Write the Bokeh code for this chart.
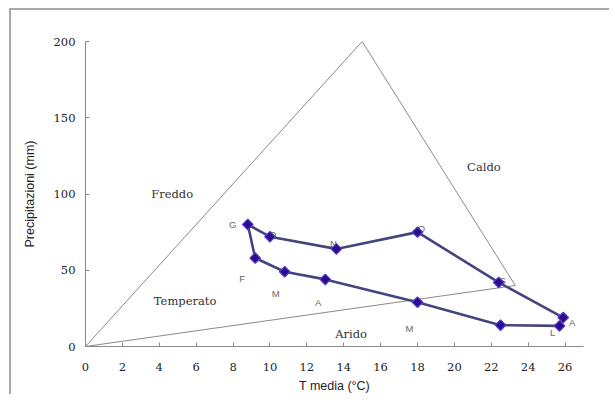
from bokeh.plotting import figure
from bokeh.models import ColumnDataSource, FixedTicker, Range1d
from bokeh.core.properties import value
from bokeh.embed import file_html
from bokeh.resources import INLINE
import math

# ---- data ----
months = ["G", "F", "M", "A", "M", "G", "L", "A", "S", "O", "N", "D"]
t_media = [8.8, 9.2, 10.8, 13.0, 18.0, 22.5, 25.7, 25.9, 22.4, 18.0, 13.6, 10.0]
precip = [80, 58, 49, 44, 29, 14, 13.5, 19, 42, 75, 64, 72]

tri_t = [0, 15, 23.3, 0]
tri_p = [0, 200, 40, 0]

region_names = ["Freddo", "Caldo", "Temperato", "Arido"]
region_t = [4.7, 21.6, 5.4, 14.4]
region_p = [100, 117.5, 30, 8.4]

x_ticks = list(range(0, 27, 2))
y_ticks = [0, 50, 100, 150, 200]

# label placement (screen px offsets from each point)
lab_dx = [-15, -13, -9, -7, -8, 0, -7, 9, 4, 4, -3, 3]
lab_dy = [0, 20, 22, 23, 26, 0, 7, 5, -2, -4, -5, -2]

p = figure(width=600, height=386, output_backend="svg", toolbar_location=None,
           x_range=Range1d(0, 27), y_range=Range1d(0, 200),
           min_border_left=74, min_border_right=28, min_border_top=31, min_border_bottom=50)
# outer gray frame of the picture (cut at right and bottom)
p.styles = {"margin-left": "9px", "margin-top": "8px",
            "border-left": "2px solid #a8a8a8", "border-top": "2px solid #a8a8a8"}
p.outline_line_color = None
p.xgrid.grid_line_color = None
p.ygrid.grid_line_color = None
p.background_fill_color = "white"
p.border_fill_color = "white"

serif = "DejaVu Serif"
sans = "Liberation Sans"

for ax in (p.xaxis[0], p.yaxis[0]):
    ax.axis_line_color = "#8a8a8a"
    ax.major_tick_line_color = "#8a8a8a"
    ax.major_tick_in = 4
    ax.major_tick_out = 0
    ax.minor_tick_line_color = None
    ax.major_label_text_font = serif
    ax.major_label_text_font_size = "11.5px"
    ax.major_label_text_color = "#222222"
    ax.axis_label_text_font = sans
    ax.axis_label_text_font_size = "12.5px"
    ax.axis_label_text_font_style = "normal"
    ax.axis_label_text_color = "#222222"

p.xaxis.ticker = FixedTicker(ticks=x_ticks)
p.yaxis.ticker = FixedTicker(ticks=y_ticks)
p.xaxis.axis_label = "T media (°C)"
p.yaxis.axis_label = "Precipitazioni (mm)"
p.xaxis.major_label_standoff = 16
p.xaxis.axis_label_standoff = 5
p.yaxis.major_label_standoff = 10
p.yaxis.axis_label_standoff = 14

# triangle
p.line(tri_t, tri_p, line_color="#8a8a8a", line_width=1)

# region labels
p.text(region_t, region_p, text=region_names, text_font=value(serif),
       text_font_size="11.5px", text_color="#333333",
       text_align="center", text_baseline="middle")

# month labels
src = ColumnDataSource(dict(x=t_media, y=precip, m=months, dx=lab_dx, dy=lab_dy))
p.text("x", "y", text="m", x_offset="dx", y_offset="dy", source=src,
       text_font=value(sans), text_font_size="9.5px", text_color="#666666",
       text_align="center", text_baseline="middle")

# climograph path (closed)
p.line(t_media + [t_media[0]], precip + [precip[0]], line_color="#45457e", line_width=2.6)
p.scatter(t_media, precip, marker="square", angle=math.pi / 4, size=7.5,
          fill_color="#300a8a", line_color="#4a3cd0", line_width=1.2)

open("out.html", "w").write(file_html(p, INLINE))
